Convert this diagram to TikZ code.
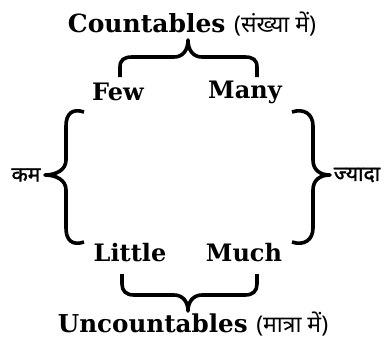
\documentclass[tikz,border=0pt]{standalone}
\usepackage{fontspec}
\setmainfont{DejaVu Serif}
\newfontfamily\hindi[Script=Devanagari]{Noto Sans}
\newfontfamily\hindibold[Script=Devanagari, FakeBold=1.5]{Noto Sans}
\usepackage{tikz}

\tikzset{
    word/.style={font=\fontsize{24}{27}\selectfont\bfseries, inner sep=0pt},
    gloss/.style={font=\fontsize{21}{24}\selectfont\hindibold, inner sep=0pt},
    bracket/.style={line width=3.6pt, line join=round}
}
\newcommand{\hindinote}[1]{{\fontsize{23}{26}\selectfont\hindi\mdseries #1}}

\begin{document}
\begin{tikzpicture}[x=1pt, y=-1pt]
    \useasboundingbox (0,0) rectangle (384,338);

    % Headings
    \node[word, font=\fontsize{25}{28}\selectfont\bfseries] (countables) at (192,24) {Countables \hindinote{(संख्या में)}};
    \node[word, font=\fontsize{24.6}{27}\selectfont\bfseries] (uncountables) at (193,324) {Uncountables \hindinote{(मात्रा में)}};

    % Four words
    \node[word] (few) at (118,92) {Few};
    \node[word] (many) at (245,92) {Many};
    \node[word] (little) at (130,253) {Little};
    \node[word] (much) at (244,253) {Much};

    % Side labels
    \node[gloss] (kam) at (26,175) {कम};
    \node[gloss] (jyada) at (357,175) {ज्यादा};

    % Top brace
    \draw[bracket] (120,77) -- (120,67) .. controls (120,60) and (124,57) .. (132,57) -- (174,57)
        .. controls (183,57) and (188,50) .. (188,40) .. controls (188,50) and (193,57) .. (202,57)
        -- (245,57) .. controls (253,57) and (257,60) .. (257,67) -- (257,77);

    % Bottom brace
    \draw[bracket] (122,274) -- (122,284) .. controls (122,291) and (126,295) .. (134,295) -- (174,295)
        .. controls (183,295) and (188,302) .. (188,311) .. controls (188,302) and (193,295) .. (202,295)
        -- (245,295) .. controls (253,295) and (257,291) .. (257,284) -- (257,274);

    % Left brace
    \draw[bracket] (84,112) .. controls (72,108) and (66,114) .. (66,126) -- (66,160)
        .. controls (66,170) and (56,175) .. (45,175) .. controls (56,175) and (66,180) .. (66,190)
        -- (66,228) .. controls (66,240) and (72,246) .. (84,242);

    % Right brace
    \draw[bracket] (292,112) .. controls (304,108) and (313,114) .. (313,126) -- (313,160)
        .. controls (313,170) and (320,175) .. (330,175) .. controls (320,175) and (313,180) .. (313,190)
        -- (313,228) .. controls (313,240) and (304,246) .. (292,242);
\end{tikzpicture}
\end{document}
